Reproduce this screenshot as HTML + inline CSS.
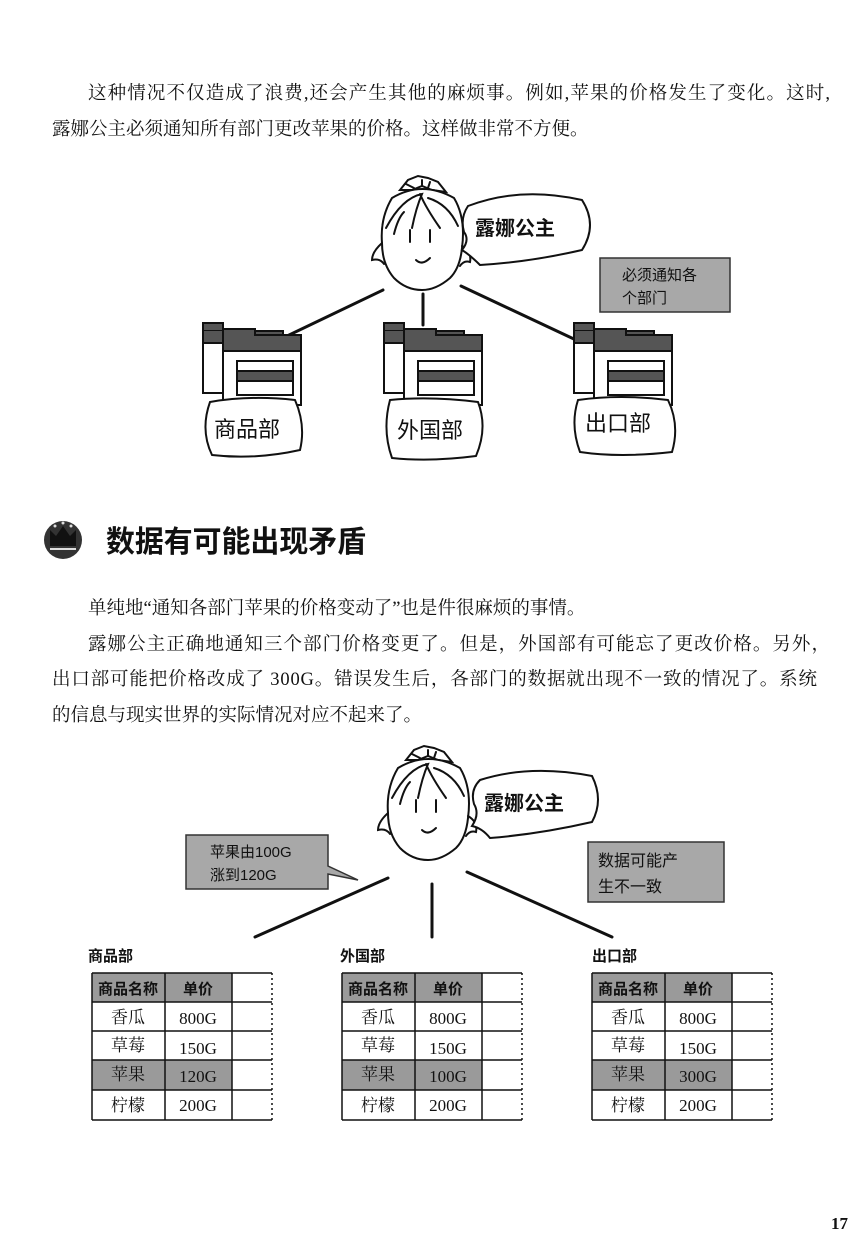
<!DOCTYPE html>
<html><head><meta charset="utf-8"><style>
html,body{margin:0;padding:0;background:#fff}
svg{display:block}
.t{font-family:"Liberation Serif","Noto Serif CJK SC",serif;font-size:17px;fill:#111}
.p{font-size:18.5px}
.s{font-family:"Liberation Sans","Noto Sans CJK SC",sans-serif;fill:#111}
</style></head><body>
<svg width="850" height="1238" viewBox="0 0 850 1238" xmlns="http://www.w3.org/2000/svg">
<defs>
<g id="face" fill="none" stroke="#111" stroke-width="2" stroke-linecap="round">
 <path d="M-22,-48 L-14,-58 L-4,-62 L6,-60 L16,-56 L24,-46 L10,-48 L0,-52 L-10,-48 Z" fill="#fff"/>
 <path d="M-16,-54 L-8,-50 M0,-58 L0,-52 M8,-56 L6,-50"/>
 <path d="M-30,-40 Q0,-58 32,-40 Q44,-20 40,10 Q38,30 28,40 Q14,52 0,52 Q-16,52 -28,40 Q-40,26 -40,5 Q-42,-20 -30,-40 Z" fill="#fff"/>
 <path d="M-40,5 Q-50,14 -50,22 Q-42,20 -38,26 M40,8 Q50,14 48,24 Q42,22 38,28"/>
 <path d="M-36,-10 Q-20,-40 0,-44 Q-6,-30 -10,-10 M-2,-44 Q4,-30 18,-10 M6,-40 Q26,-34 36,-12 M-28,-4 Q-24,-20 -18,-26"/>
 <path d="M-12,-8 L-12,4 M8,-8 L8,4"/>
 <path d="M-6,22 Q0,28 8,20"/>
</g>
<g id="folder" stroke="#111" stroke-width="2">
 <rect x="0" y="8" width="35" height="62" fill="#fff"/>
 <path d="M0,0 H20 V8 H0 Z" fill="#555"/>
 <path d="M20,8 H80 V20 H0 V8" fill="#555"/>
 <rect x="20" y="20" width="78" height="62" fill="#fff"/>
 <path d="M20,20 V6 H52 V12 H98 V28 H20 Z" fill="#555"/>
 <rect x="34" y="38" width="56" height="34" fill="#fff"/>
 <rect x="34" y="48" width="56" height="10" fill="#555"/>
</g>
</defs>

<text class="t p" x="88" y="99" textLength="742" lengthAdjust="spacing">这种情况不仅造成了浪费,还会产生其他的麻烦事。例如,苹果的价格发生了变化。这时,</text>
<text class="t p" x="52" y="135">露娜公主必须通知所有部门更改苹果的价格。这样做非常不方便。</text>

<g stroke="#111" stroke-width="3" stroke-linecap="round">
 <line x1="383" y1="290" x2="287" y2="336"/>
 <line x1="423" y1="294" x2="423" y2="325"/>
 <line x1="461" y1="286" x2="576" y2="340"/>
</g>
<use href="#face" x="422" y="238"/>
<path d="M468,206 Q520,186 582,200 Q598,225 582,250 Q530,262 480,265 Q470,255 462,250 Q470,240 464,232 Q460,218 468,206 Z" fill="#fff" stroke="#111" stroke-width="2"/>
<text class="s" x="475" y="235" font-size="20" font-weight="bold">露娜公主</text>
<rect x="600" y="258" width="130" height="54" fill="#a8a8a8" stroke="#333" stroke-width="1.5"/>
<text class="s" x="622" y="280" font-size="15">必须通知各</text>
<text class="s" x="622" y="303" font-size="15">个部门</text>

<use href="#folder" x="203" y="323"/>
<use href="#folder" x="384" y="323"/>
<use href="#folder" x="574" y="323"/>
<g fill="#fff" stroke="#111" stroke-width="2">
 <path d="M210,402 Q250,395 295,400 Q306,425 300,450 Q255,460 212,455 Q200,430 210,402 Z"/>
 <path d="M390,400 Q430,396 478,402 Q488,428 476,456 Q430,462 392,458 Q382,430 390,400 Z"/>
 <path d="M578,400 Q620,394 668,400 Q680,425 672,452 Q620,458 580,452 Q570,425 578,400 Z"/>
</g>
<text class="s" x="214" y="437" font-size="22">商品部</text>
<text class="s" x="397" y="438" font-size="22">外国部</text>
<text class="s" x="585" y="431" font-size="22">出口部</text>

<circle cx="63" cy="540" r="19" fill="#333"/>
<path d="M50,546 L50,530 L56,536 L63,526 L70,536 L76,530 L76,546 Z" fill="#111"/>
<line x1="50" y1="549" x2="76" y2="549" stroke="#ddd" stroke-width="2"/>
<circle cx="55" cy="526" r="1.5" fill="#ddd"/><circle cx="63" cy="523" r="1.5" fill="#ddd"/><circle cx="71" cy="526" r="1.5" fill="#ddd"/>
<text class="s" x="106" y="552" font-size="30" font-weight="bold" textLength="260" lengthAdjust="spacingAndGlyphs">数据有可能出现矛盾</text>

<text class="t p" x="88" y="614">单纯地“通知各部门苹果的价格变动了”也是件很麻烦的事情。</text>
<text class="t p" x="88" y="650" textLength="742" lengthAdjust="spacing">露娜公主正确地通知三个部门价格变更了。但是，外国部有可能忘了更改价格。另外，</text>
<text class="t p" x="52" y="685" textLength="765" lengthAdjust="spacing">出口部可能把价格改成了 300G。错误发生后，各部门的数据就出现不一致的情况了。系统</text>
<text class="t p" x="52" y="721">的信息与现实世界的实际情况对应不起来了。</text>

<g stroke="#111" stroke-width="3" stroke-linecap="round">
 <line x1="388" y1="878" x2="255" y2="937"/>
 <line x1="432" y1="884" x2="432" y2="937"/>
 <line x1="467" y1="872" x2="612" y2="937"/>
</g>
<use href="#face" x="428" y="808"/>
<path d="M480,780 Q530,764 592,776 Q604,800 592,822 Q540,834 490,838 Q482,828 472,826 Q480,814 474,804 Q470,790 480,780 Z" fill="#fff" stroke="#111" stroke-width="2"/>
<text class="s" x="484" y="810" font-size="20" font-weight="bold">露娜公主</text>
<path d="M186,835 H328 V866 L358,880 L328,874 V889 H186 Z" fill="#a8a8a8" stroke="#333" stroke-width="1.5"/>
<text class="s" x="210" y="857" font-size="15">苹果由100G</text>
<text class="s" x="210" y="880" font-size="15">涨到120G</text>
<rect x="588" y="842" width="136" height="60" fill="#a8a8a8" stroke="#333" stroke-width="1.5"/>
<text class="s" x="598" y="866" font-size="16">数据可能产</text>
<text class="s" x="598" y="892" font-size="16">生不一致</text>

<g font-size="15">
<g transform="translate(88,0)">
 <text class="s" x="0" y="961" font-size="15" font-weight="bold">商品部</text>
 <rect x="4" y="973" width="140" height="29" fill="#9a9a9a"/>
 <rect x="4" y="1060" width="140" height="30" fill="#9a9a9a"/>
 <g stroke="#111" stroke-width="1.5" fill="none">
  <path d="M4,973 H184 M4,1002 H184 M4,1031 H184 M4,1060 H184 M4,1090 H184 M4,1120 H184 M4,973 V1120 M77,973 V1120 M144,973 V1120"/>
  <path d="M184,973 V1120" stroke-dasharray="2,3"/>
 </g>
 <text class="s" x="40" y="994" text-anchor="middle" font-weight="bold">商品名称</text>
 <text class="s" x="110" y="994" text-anchor="middle" font-weight="bold">单价</text>
 <text class="t" x="40" y="1023" text-anchor="middle" font-size="15">香瓜</text><text class="t" x="110" y="1024" text-anchor="middle" font-size="15">800G</text>
 <text class="t" x="40" y="1051" text-anchor="middle" font-size="15">草莓</text><text class="t" x="110" y="1054" text-anchor="middle" font-size="15">150G</text>
 <text class="t" x="40" y="1080" text-anchor="middle" font-size="15">苹果</text><text class="t" x="110" y="1082" text-anchor="middle" font-size="15">120G</text>
 <text class="t" x="40" y="1111" text-anchor="middle" font-size="15">柠檬</text><text class="t" x="110" y="1111" text-anchor="middle" font-size="15">200G</text>
</g>
<g transform="translate(338,0)">
 <text class="s" x="2" y="961" font-size="15" font-weight="bold">外国部</text>
 <rect x="4" y="973" width="140" height="29" fill="#9a9a9a"/>
 <rect x="4" y="1060" width="140" height="30" fill="#9a9a9a"/>
 <g stroke="#111" stroke-width="1.5" fill="none">
  <path d="M4,973 H184 M4,1002 H184 M4,1031 H184 M4,1060 H184 M4,1090 H184 M4,1120 H184 M4,973 V1120 M77,973 V1120 M144,973 V1120"/>
  <path d="M184,973 V1120" stroke-dasharray="2,3"/>
 </g>
 <text class="s" x="40" y="994" text-anchor="middle" font-weight="bold">商品名称</text>
 <text class="s" x="110" y="994" text-anchor="middle" font-weight="bold">单价</text>
 <text class="t" x="40" y="1023" text-anchor="middle" font-size="15">香瓜</text><text class="t" x="110" y="1024" text-anchor="middle" font-size="15">800G</text>
 <text class="t" x="40" y="1051" text-anchor="middle" font-size="15">草莓</text><text class="t" x="110" y="1054" text-anchor="middle" font-size="15">150G</text>
 <text class="t" x="40" y="1080" text-anchor="middle" font-size="15">苹果</text><text class="t" x="110" y="1082" text-anchor="middle" font-size="15">100G</text>
 <text class="t" x="40" y="1111" text-anchor="middle" font-size="15">柠檬</text><text class="t" x="110" y="1111" text-anchor="middle" font-size="15">200G</text>
</g>
<g transform="translate(588,0)">
 <text class="s" x="4" y="961" font-size="15" font-weight="bold">出口部</text>
 <rect x="4" y="973" width="140" height="29" fill="#9a9a9a"/>
 <rect x="4" y="1060" width="140" height="30" fill="#9a9a9a"/>
 <g stroke="#111" stroke-width="1.5" fill="none">
  <path d="M4,973 H184 M4,1002 H184 M4,1031 H184 M4,1060 H184 M4,1090 H184 M4,1120 H184 M4,973 V1120 M77,973 V1120 M144,973 V1120"/>
  <path d="M184,973 V1120" stroke-dasharray="2,3"/>
 </g>
 <text class="s" x="40" y="994" text-anchor="middle" font-weight="bold">商品名称</text>
 <text class="s" x="110" y="994" text-anchor="middle" font-weight="bold">单价</text>
 <text class="t" x="40" y="1023" text-anchor="middle" font-size="15">香瓜</text><text class="t" x="110" y="1024" text-anchor="middle" font-size="15">800G</text>
 <text class="t" x="40" y="1051" text-anchor="middle" font-size="15">草莓</text><text class="t" x="110" y="1054" text-anchor="middle" font-size="15">150G</text>
 <text class="t" x="40" y="1080" text-anchor="middle" font-size="15">苹果</text><text class="t" x="110" y="1082" text-anchor="middle" font-size="15">300G</text>
 <text class="t" x="40" y="1111" text-anchor="middle" font-size="15">柠檬</text><text class="t" x="110" y="1111" text-anchor="middle" font-size="15">200G</text>
</g>
</g>

<text class="t" x="848" y="1229" text-anchor="end" font-size="22" font-weight="bold">17</text>
</svg>
</body></html>
